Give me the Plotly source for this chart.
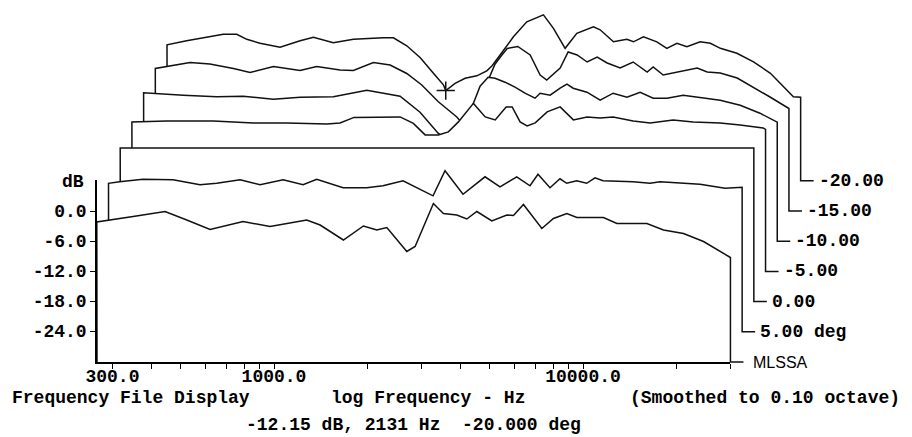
import math
import plotly.graph_objects as go

# ---------------- data ----------------
F_MIN, F_MAX = 267.4, 30000.0          # frequency span of every trace (Hz)
OFFSET_DB = 6.04                       # vertical step between stacked traces (dB)
FREQ_STEP = 1.0911                     # horizontal step between stacked traces (ratio)
BASE_DB = -30.2                        # level each trace drops to at its right end

TRACE_LABELS = ["MLSSA", "5.00 deg", "0.00", "-5.00", "-10.00", "-15.00", "-20.00"]

FRONT_HZ = [267, 350, 444, 522, 621, 794, 971, 1276, 1410, 1677, 1947, 2151, 2318, 2690, 2862,
            3280, 3534, 3905, 4207, 4533, 5069, 5669, 5955, 6416, 7358, 8024, 8866, 9552,
            11648, 12871, 16096, 18218, 21148, 24548, 29191, 30000]
FRONT_DB = [-2.2, -1.1, -0.1, -1.8, -3.7, -2.1, -3.1, -1.8, -2.8, -5.8, -3.0, -3.8, -3.3, -8.1, -7.1,
            1.5, -0.5, -0.8, -1.6, -0.1, -2.0, -0.8, -0.9, 1.3, -3.5, -1.5, -0.5, -1.3,
            -1.3, -2.5, -2.5, -3.8, -4.5, -6.1, -8.8, -9.3]

DEG5_HZ = [267, 290, 345, 432, 528, 598, 712, 826, 981, 1138, 1260, 1533, 1829, 2065, 2397,
           2998, 3278, 3748, 4416, 4938, 5592, 6174, 6553, 7167, 7721, 8116, 8744, 9421,
           10024, 10640, 13306, 15101, 16271, 21922, 26410, 30000]
DEG5_DB = [-0.5, -0.2, 0.3, 0.2, -0.8, -0.5, 0.2, -0.8, 0.2, -0.8, 0.3, -1.4, -1.4, -1.0, 0.0,
           -3.0, 2.0, -2.7, 0.8, -1.2, 0.8, -1.0, 1.3, -1.4, 0.4, -0.5, 0.0, -0.5,
           0.6, 0.0, -0.2, -0.5, -0.2, -0.7, -1.5, -1.3]

DEG0_HZ = [267, 2000, 30000]
DEG0_DB = [0.5, 0.5, 0.5]

DEGM5_HZ = [267, 346, 490, 660, 847, 1141, 1259, 1398, 1614, 1970, 2175, 2374, 2620, 2823, 3042,
            3402, 3715, 4002, 4341, 4541, 4818, 5077, 5393, 5893, 6492, 7164, 7941, 8746,
            9638, 11187, 12697, 15073, 17497, 21395, 24835, 29452, 30000]
DEGM5_DB = [-0.3, -0.1, -0.1, -0.5, -0.5, -0.7, -0.5, 0.6, 0.7, 0.7, -0.6, -2.9, -2.9, -2.3, -0.3,
            3.4, 0.7, 0.1, 2.7, 2.7, -0.3, -1.1, -0.5, 1.7, 2.7, 0.1, 0.7, 0.5,
            0.7, -0.1, -0.5, 0.1, -0.3, -0.5, -0.9, -1.5, -1.8]

DEGM10_HZ = [267, 359, 460, 561, 702, 857, 1098, 1409, 1594, 1805, 2095, 2397, 2620, 2866, 3118,
             3277, 3479, 3663, 3946, 4251, 4580, 4935, 5125, 5522, 5950, 6260, 6557, 7266,
             8017, 8835, 9790, 10801, 11904, 13191, 14887, 16893, 19610, 22762, 26382, 30000]
DEGM10_DB = [-0.5, -1.0, -1.3, -1.2, -1.8, -1.4, -1.3, 0.0, -0.6, -1.2, -4.4, -8.6, -10.4, -8.0, -2.6,
             0.8, 2.6, 2.4, 1.6, 0.6, -0.6, -1.6, -0.6, -1.0, 0.4, 1.2, 0.4, -0.4,
             -2.0, -0.6, -1.4, -0.4, -1.6, -1.6, -1.0, -1.4, -2.0, -3.0, -4.6, -6.4]

DEGM15_HZ = [267, 346, 401, 478, 541, 644, 785, 889, 1058, 1168, 1356, 1536, 1739, 1945, 2196,
             2371, 2525, 2705, 3004, 3212, 3359, 3513, 3676, 3978, 4361, 4698, 4935, 5454,
             5789, 6190, 6669, 7185, 7741, 8529, 9397, 10431, 10908, 11752, 13045, 14054,
             15142, 16313, 17975, 20402, 22987, 26054, 30000]
DEGM15_DB = [-1.7, -0.5, -0.8, -1.7, -2.5, -1.3, -2.1, -1.3, -2.0, -2.1, -0.5, -1.0, -2.7, -5.0, -8.3,
             -10.0, -11.4, -13.6, -8.0, -3.6, -0.8, 0.8, 2.3, 2.7, 1.0, -3.0, -4.0, -1.6,
             1.6, 1.0, -0.4, 0.6, -0.6, -1.6, -0.4, -2.4, -1.4, -3.0, -2.4, -2.0,
             -1.6, -2.4, -2.6, -3.6, -5.4, -7.4, -9.7]

DEGM20_HZ = [267, 309, 342, 406, 449, 484, 534, 620, 720, 795, 922, 1071, 1339, 1443, 1594,
             1763, 1944, 2094, 2131, 2285, 2462, 2686, 2894, 3010, 3200, 3529, 3899, 4413,
             4755, 5187, 5660, 6406, 6734, 7436, 8217, 8631, 9300, 10276, 11071, 11928,
             12851, 14191, 15312, 16497, 18656, 21115, 23949, 26366, 28419, 30000]
DEGM20_DB = [-3.0, -2.2, -1.7, -0.9, -0.9, -1.9, -2.7, -3.5, -2.2, -1.5, -2.6, -1.9, -1.6, -1.6, -3.2,
             -5.6, -8.7, -11.0, -12.15, -10.7, -9.7, -9.2, -8.2, -7.2, -5.0, -1.4, 1.6, 3.0,
             0.3, -3.7, -0.7, 0.6, 0.0, -2.4, -1.9, -2.4, -1.4, -2.4, -3.7, -2.7,
             -3.4, -2.4, -2.7, -3.7, -4.7, -6.4, -8.7, -11.4, -13.4, -13.5]

CURSOR_HZ = 2131
CURSOR_DB = -12.15
CURSOR_DEG = -20.0
CURSOR_TRACE = 6

X_TICK_VALS = [300, 400, 500, 600, 700, 800, 900, 1000, 2000, 3000, 4000, 5000, 6000, 7000,
               8000, 9000, 10000, 20000, 30000]
X_TICK_TEXT = ["300.0", "", "", "", "", "", "", "1000.0", "", "", "", "", "", "", "", "",
               "10000.0", "", ""]
Y_TICK_VALS = [0, -6, -12, -18, -24]
Y_TICK_TEXT = ["0.0", "-6.0", "-12.0", "-18.0", "-24.0"]

TRACES = [(FRONT_HZ, FRONT_DB), (DEG5_HZ, DEG5_DB), (DEG0_HZ, DEG0_DB), (DEGM5_HZ, DEGM5_DB),
          (DEGM10_HZ, DEGM10_DB), (DEGM15_HZ, DEGM15_DB), (DEGM20_HZ, DEGM20_DB)]

# ---------------- layout geometry ----------------
W, H = 912, 437
PX_DEC = 309.0        # pixels per decade
PX_DB = 5.0           # pixels per dB
AX_LEFT_PX = 97.0     # x pixel of F_MIN on front trace
ZERO_DB_PX = 211.0    # y pixel of 0 dB on front trace
Y_AXIS_TOP = 6.2
STUB = 10 ** (13 / PX_DEC)

MONO = dict(family="Liberation Mono", size=18, color="black", weight="bold")
LINE_COLOR = "#111111"

fig = go.Figure()

# draw from back (top) to front (bottom) so front fills hide back lines
for k in range(len(TRACES) - 1, -1, -1):
    hz, db = TRACES[k]
    sx = FREQ_STEP ** k
    dy = OFFSET_DB * k
    xs = [F_MIN * sx] + [f * sx for f in hz] + [F_MAX * sx]
    ys = [BASE_DB + dy] + [v + dy for v in db] + [BASE_DB + dy]
    fig.add_trace(go.Scatter(x=xs, y=ys, mode="lines", fill="toself", fillcolor="white",
                             line=dict(width=0, color="white"), hoverinfo="skip",
                             showlegend=False))
    fig.add_trace(go.Scatter(x=xs + [F_MAX * sx * STUB], y=ys + [BASE_DB + dy], mode="lines",
                             line=dict(width=1.5, color=LINE_COLOR), hoverinfo="skip",
                             showlegend=False))
    if k > 0:
        lab_font, shift = MONO, 3
    else:
        lab_font, shift = dict(family="Liberation Sans", size=16, color="black"), 8
    fig.add_annotation(x=math.log10(F_MAX * sx * STUB), y=BASE_DB + dy, xref="x", yref="y",
                       text=TRACE_LABELS[k], showarrow=False, xanchor="left", yanchor="middle",
                       xshift=shift, font=lab_font)

# cursor
fig.add_trace(go.Scatter(x=[CURSOR_HZ * FREQ_STEP ** CURSOR_TRACE],
                         y=[CURSOR_DB + OFFSET_DB * CURSOR_TRACE], mode="markers",
                         marker=dict(symbol="cross-thin", size=13,
                                     line=dict(width=1.5, color=LINE_COLOR)),
                         hoverinfo="skip", showlegend=False))

# empty trace for the axis frame subplot
fig.add_trace(go.Scatter(x=[], y=[], xaxis="x2", yaxis="y2", showlegend=False))

x_log0 = math.log10(F_MIN)
fig.update_layout(
    width=W, height=H, autosize=False,
    margin=dict(l=0, r=0, t=0, b=0, pad=0, autoexpand=False),
    paper_bgcolor="white", plot_bgcolor="rgba(0,0,0,0)",
    showlegend=False,
    xaxis=dict(type="log", visible=False, automargin=False,
               range=[x_log0 - AX_LEFT_PX / PX_DEC, x_log0 + (W - AX_LEFT_PX) / PX_DEC],
               domain=[0, 1]),
    yaxis=dict(visible=False, automargin=False,
               range=[ZERO_DB_PX / PX_DB - H / PX_DB, ZERO_DB_PX / PX_DB], domain=[0, 1]),
    xaxis2=dict(type="log", anchor="y2", automargin=False,
                domain=[AX_LEFT_PX / W,
                        (AX_LEFT_PX + PX_DEC * math.log10(F_MAX / F_MIN)) / W],
                range=[math.log10(F_MIN), math.log10(F_MAX)],
                showline=True, linecolor="black", linewidth=1.5,
                ticks="outside", ticklen=5, tickwidth=1.3, tickcolor="black",
                tickvals=X_TICK_VALS, ticktext=X_TICK_TEXT, tickfont=MONO,
                ticklabelstandoff=-8,
                showgrid=False, zeroline=False),
    yaxis2=dict(anchor="x2", automargin=False,
                domain=[(H - (ZERO_DB_PX - PX_DB * BASE_DB)) / H,
                        (H - (ZERO_DB_PX - PX_DB * Y_AXIS_TOP)) / H],
                range=[BASE_DB, Y_AXIS_TOP],
                showline=True, linecolor="black", linewidth=1.5,
                ticks="outside", ticklen=5, tickwidth=1.3, tickcolor="black",
                tickvals=Y_TICK_VALS, ticktext=Y_TICK_TEXT, tickfont=MONO,
                showgrid=False, zeroline=False),
)

def paper_text(txt, px, py, anchor="left"):
    fig.add_annotation(x=px / W, y=1 - py / H, xref="paper", yref="paper", text=txt,
                       showarrow=False, xanchor=anchor, yanchor="middle", font=MONO)

paper_text("dB", 86, 182, anchor="right")
paper_text("Frequency File Display", 10, 398)
paper_text("log Frequency - Hz", 329, 398)
paper_text("(Smoothed to 0.10 octave)", 628, 398)
paper_text(f"{CURSOR_DB:.2f} dB, {CURSOR_HZ} Hz  {CURSOR_DEG:.3f} deg", 244, 425)

fig.write_html("out.html", config={"responsive": False, "displayModeBar": False},
               post_script="document.body.style.margin='0px';document.body.style.overflow='hidden';")
